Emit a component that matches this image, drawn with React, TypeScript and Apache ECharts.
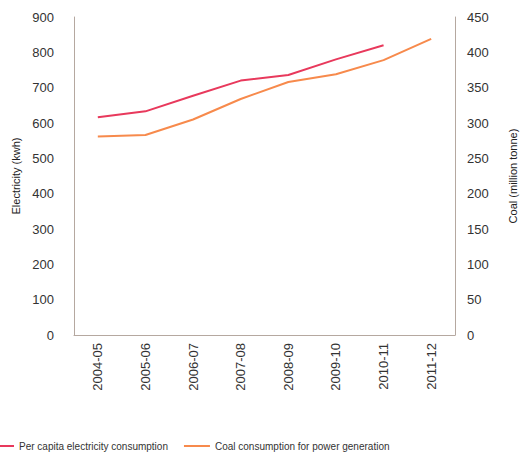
import React, { useEffect, useRef } from "react";
import * as echarts from "echarts";

const categories = ["2004-05", "2005-06", "2006-07", "2007-08", "2008-09", "2009-10", "2010-11", "2011-12"];
const perCapita = [616, 633, 677, 720, 736, 780, 820, null];
const coal = [281, 283, 305, 334, 358, 369, 389, 419];
const leftTicks = { min: 0, max: 900, interval: 100 };
const rightTicks = { min: 0, max: 450, interval: 50 };

export default function App() {
  const ref = useRef<HTMLDivElement>(null);
  useEffect(() => {
    const chart = echarts.init(ref.current!, null, { renderer: "svg" });
    const axisLine = { show: true, lineStyle: { color: "#b5a8a0", width: 1 } };
    const font = "Liberation Sans, Arial, sans-serif";
    chart.setOption({
      animation: false,
      backgroundColor: "#ffffff",
      grid: { left: 74, right: 60, top: 17, bottom: 119 },
      legend: {
        left: -17,
        top: 436,
        itemWidth: 26,
        itemHeight: 2,
        itemGap: 16,
        icon: "rect",
        textStyle: { fontSize: 10, color: "#333", fontFamily: font },
        data: ["Per capita electricity consumption", "Coal consumption for power generation"],
      },
      xAxis: {
        type: "category",
        data: categories,
        boundaryGap: true,
        axisLine,
        axisTick: { show: false },
        axisLabel: { rotate: 90, fontSize: 13, color: "#333", margin: 8, fontFamily: font },
      },
      yAxis: [
        {
          type: "value",
          ...leftTicks,
          name: "Electricity (kwh)",
          nameLocation: "middle",
          nameGap: 51,
          nameTextStyle: { fontSize: 11, color: "#222", fontFamily: font },
          axisLine,
          axisTick: { show: false },
          splitLine: { show: false },
          axisLabel: { fontSize: 13, color: "#333", margin: 20, fontFamily: font },
        },
        {
          type: "value",
          ...rightTicks,
          name: "Coal (million tonne)",
          nameLocation: "middle",
          nameGap: 52,
          nameRotate: 90,
          nameTextStyle: { fontSize: 11, color: "#222", fontFamily: font },
          axisLine,
          axisTick: { show: false },
          splitLine: { show: false },
          axisLabel: { fontSize: 13, color: "#333", margin: 12, fontFamily: font },
        },
      ],
      series: [
        {
          name: "Per capita electricity consumption",
          type: "line",
          yAxisIndex: 0,
          data: perCapita,
          symbol: "none",
          color: "#e8395c",
          lineStyle: { width: 2, color: "#e8395c" },
        },
        {
          name: "Coal consumption for power generation",
          type: "line",
          yAxisIndex: 1,
          data: coal,
          symbol: "none",
          color: "#f78a4c",
          lineStyle: { width: 2, color: "#f78a4c" },
        },
      ],
    });
    return () => chart.dispose();
  }, []);
  return (
    <div
      ref={ref}
      style={{ position: "fixed", left: 0, top: 0, width: 526, height: 454 }}
    />
  );
}
